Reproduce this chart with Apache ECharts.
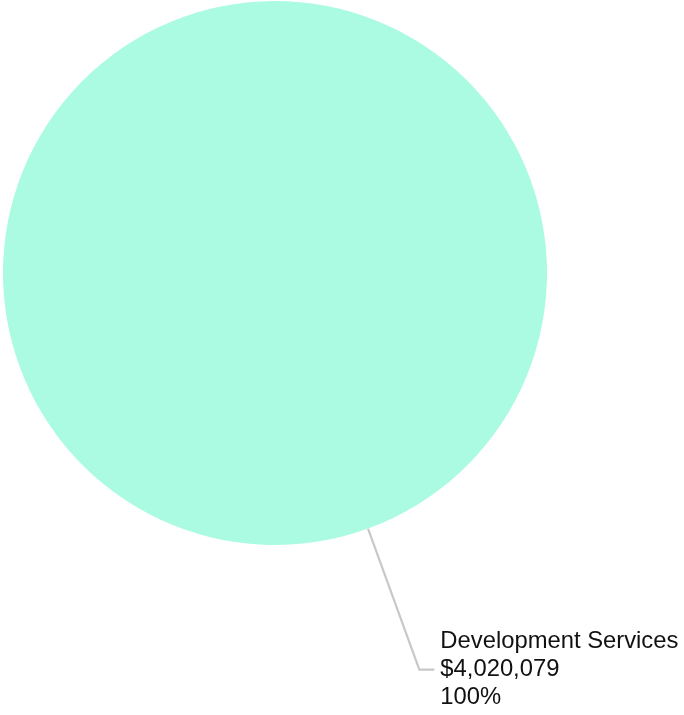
<!DOCTYPE html>
<html>
<head>
<meta charset="utf-8">
<script src="https://cdn.jsdelivr.net/npm/echarts@6/dist/echarts.min.js"></script>
<style>
html,body{margin:0;padding:0;background:#fff;}
#chart{width:684px;height:715px;}
</style>
</head>
<body>
<div id="chart"></div>
<script>
const categories = ['Development Services'];
const values = [4020079];
const colors = ['#abfbe3'];

const chart = echarts.init(document.getElementById('chart'), null, {renderer: 'canvas'});
const data = categories.map((c, i) => ({name: c, value: values[i], itemStyle: {color: colors[i]}}));

chart.setOption({
  animation: false,
  series: [{
    type: 'pie',
    center: [275, 273],
    radius: [0, 272],
    startAngle: 110,
    clockwise: true,
    avoidLabelOverlap: false,
    data: data,
    label: {
      show: true,
      position: 'outside',
      fontFamily: '"Liberation Sans", Arial, sans-serif',
      fontSize: 23.8,
      lineHeight: 28,
      color: '#111',
      width: 260,
      overflow: 'none',
      distanceToLabelLine: 6,
      formatter: function (p) {
        return p.name + '\n$' + p.value.toLocaleString('en-US') + '\n' + Math.round(p.percent) + '%';
      }
    },
    labelLine: {
      show: true,
      length: 150,
      length2: 15,
      lineStyle: {color: '#c8c8c8', width: 2.2}
    }
  }]
});
</script>
</body>
</html>
